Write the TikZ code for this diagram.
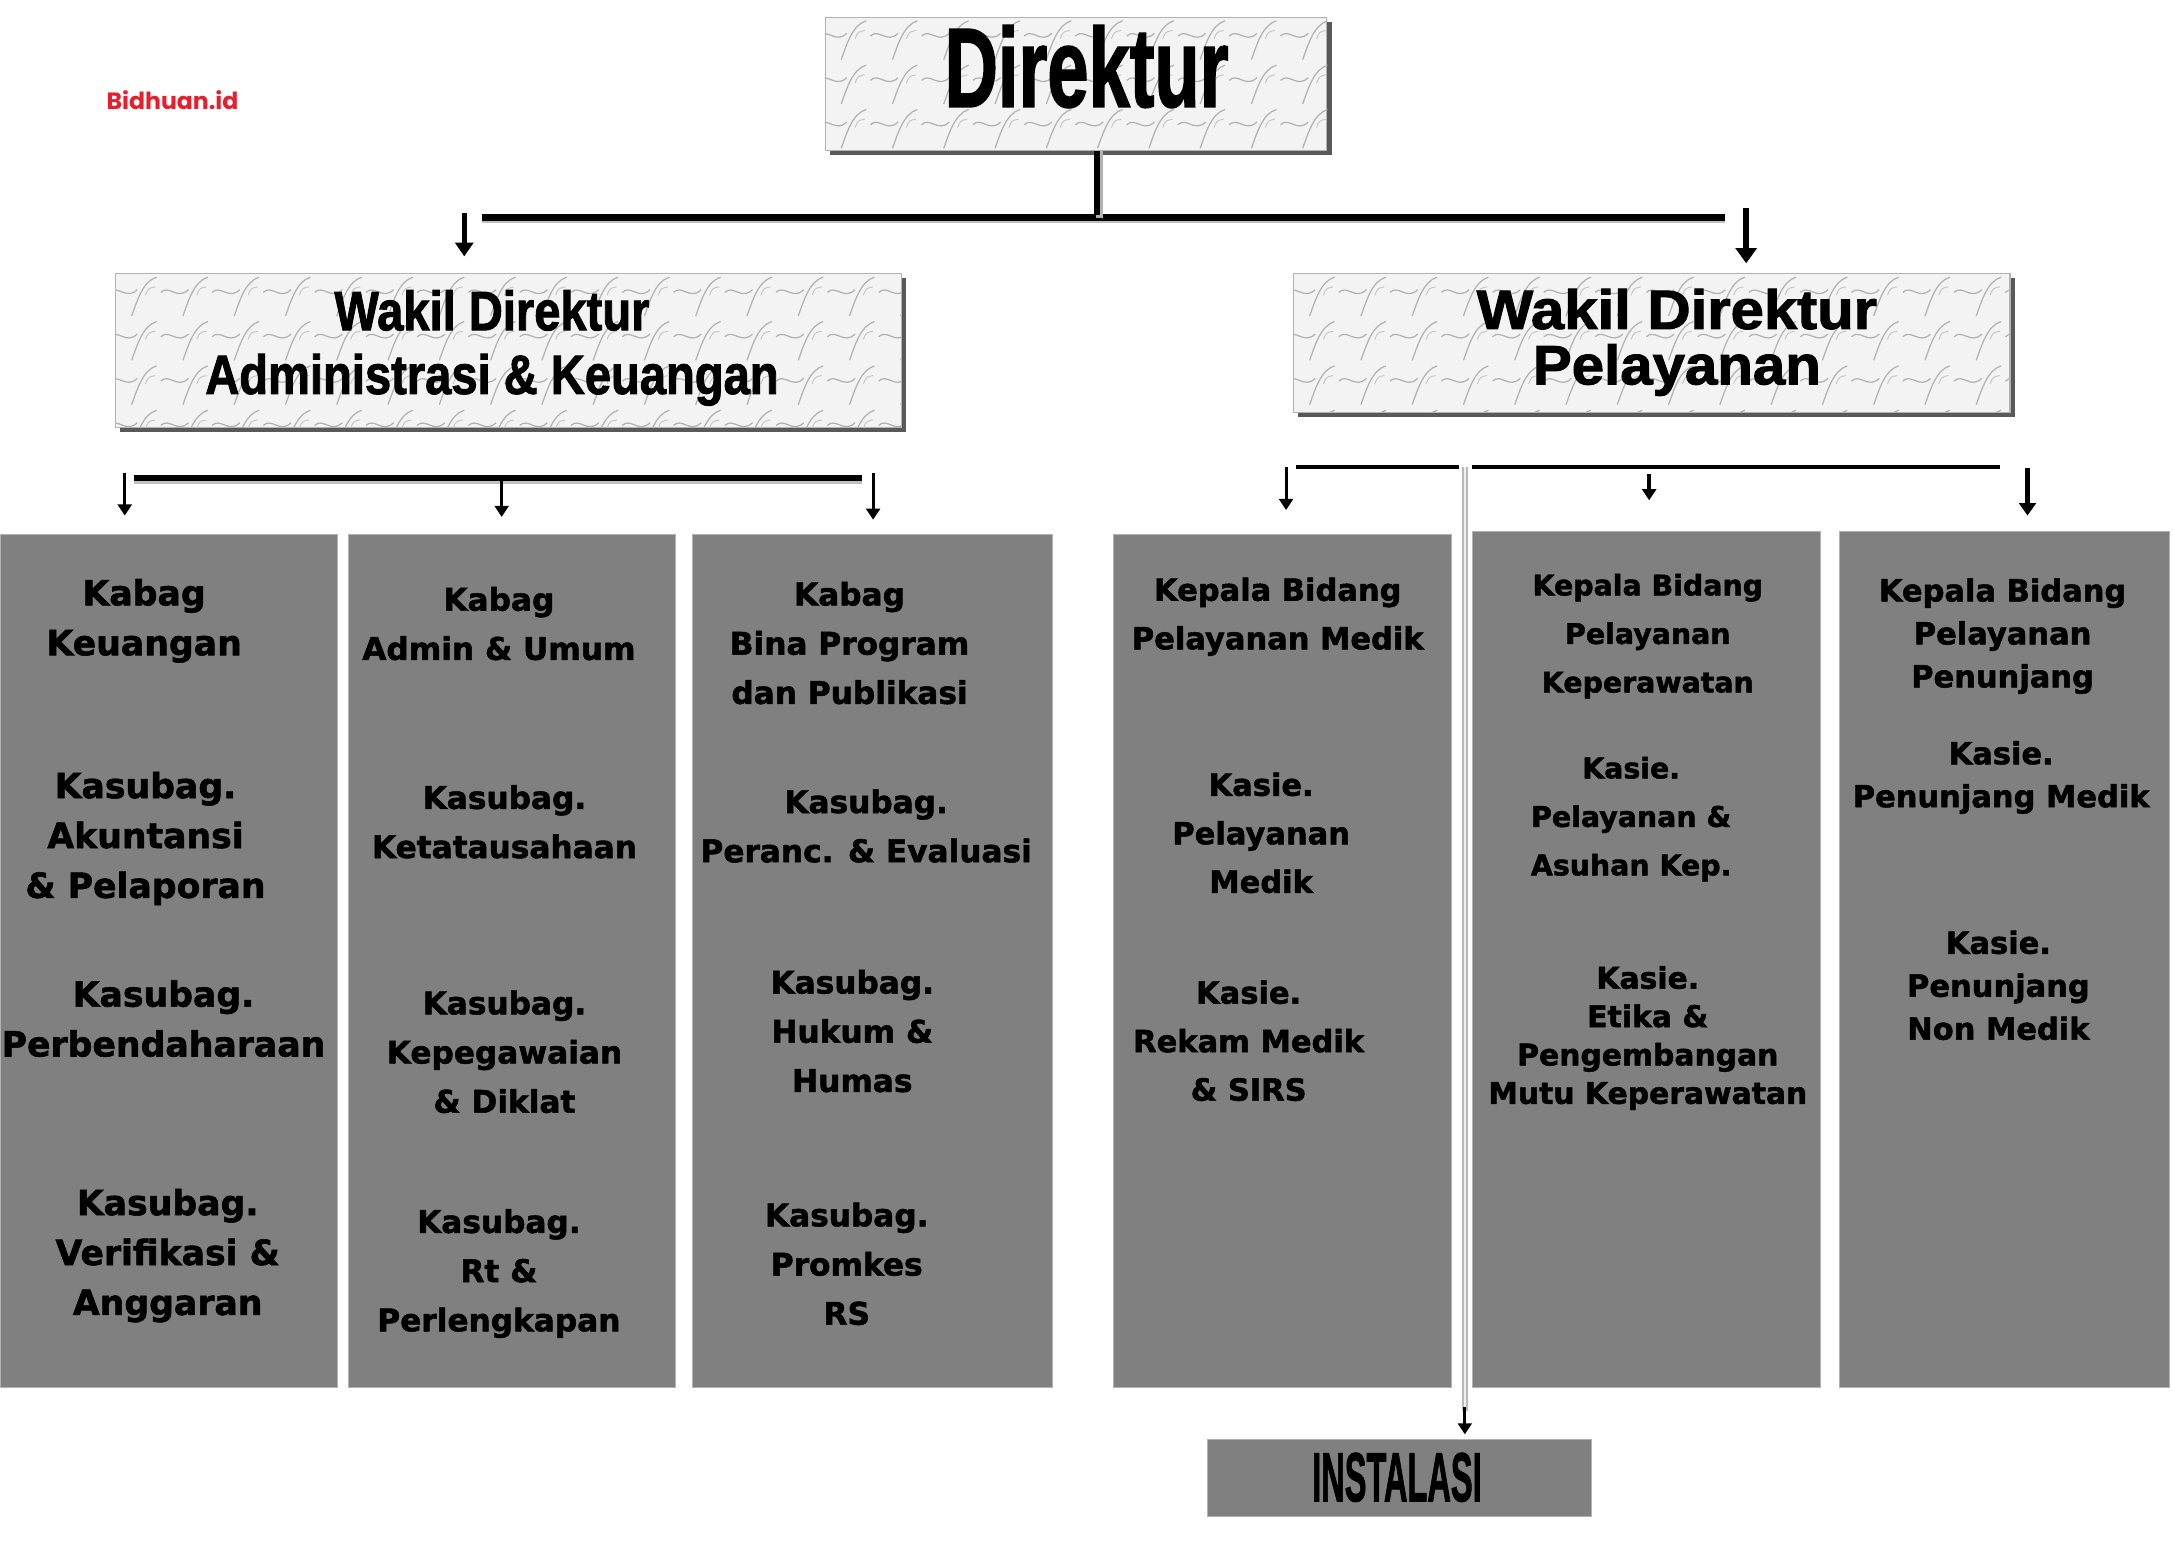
\documentclass[tikz,border=0pt]{standalone}
\usepackage{fontspec}
\usepackage{graphicx}
\setmainfont{DejaVu Sans}[BoldFeatures={FakeBold=1.6}]
\newfontfamily\hfont{Liberation Sans}[BoldFeatures={FakeBold=1.8}]
\newfontfamily\wmfont{Poppins}
\usetikzlibrary{arrows.meta,shadows}
\definecolor{colgray}{RGB}{128,128,128}
\definecolor{wmred}{RGB}{232,30,45}
\definecolor{texfill}{RGB}{243,243,243}
\newcommand{\texpat}[4]{%
  \begin{scope}[shift={(#1,#2)}]
    \foreach \i in {0,...,#3}{\foreach \j in {0,...,#4}{
      \draw[squig] (\i*37-4,\j*32+14) .. controls (\i*37+2,\j*32+8) and (\i*37+8,\j*32+20) .. (\i*37+16,\j*32+12);
      \draw[squig] (\i*37+12,\j*32+31) .. controls (\i*37+16,\j*32+20) and (\i*37+20,\j*32+6) .. (\i*37+30,\j*32+3);
      \draw[squig2] (\i*37+22,\j*32+16) .. controls (\i*37+24,\j*32+11) .. (\i*37+29,\j*32+10);
    }}
  \end{scope}}
\tikzset{
  squig/.style={gray!60, line width=0.9pt},
  squig2/.style={gray!45, line width=0.7pt},
  texbox/.style={draw=gray!60, line width=0.8pt, fill=texfill, inner sep=0pt, anchor=north west,
    drop shadow={shadow xshift=3.5pt, shadow yshift=-3.5pt, fill=black!65, opacity=1}},
  colbox/.style={fill=colgray, draw=gray!60, line width=0.6pt, inner sep=0pt, anchor=north west},
  ctext/.style={align=center, inner sep=0pt, text=black},
  fA/.style={ctext, font=\bfseries\fontsize{25}{36}\selectfont},
  fB/.style={ctext, font=\bfseries\fontsize{22.5}{35.5}\selectfont},
  fC/.style={ctext, font=\bfseries\fontsize{22}{35}\selectfont},
  fD/.style={ctext, font=\bfseries\fontsize{20.5}{35}\selectfont},
  fE/.style={ctext, font=\bfseries\fontsize{22}{31}\selectfont},
  fS/.style={ctext, font=\bfseries\fontsize{21.5}{27.7}\selectfont},
  hline/.style={line width=4.5pt},
  hlinethin/.style={line width=3.5pt},
  arr/.style={line width=2.2pt, -{Triangle[length=8pt,width=10pt]}},
  arrthick/.style={line width=4pt, -{Triangle[length=11pt,width=15pt]}},
  tube/.style={gray!55, line width=4.5pt},
  tubecore/.style={gray!12, line width=1.5pt},
}
\begin{document}
\begin{tikzpicture}[x=1pt,y=-1pt]
\useasboundingbox (0,0) rectangle (1568,1130);
\fill[white] (0,0) rectangle (1568,1130);

% watermark
\node[inner sep=0pt, text=wmred, font=\wmfont\bfseries\fontsize{17}{17}\selectfont] (wm) at (124.5,72) {Bidhuan.id};

% top boxes with texture
\node[texbox, minimum width=362pt, minimum height=96pt] (dir) at (595,12) {};
\begin{scope}
  \clip (dir.north west) rectangle (dir.south east);
  \texpat{595}{12}{10}{3}
\end{scope}
\node[inner sep=0pt, font=\hfont\bfseries\fontsize{81}{81}\selectfont] (dirt) at (784,48) {\scalebox{0.66}[1]{Direktur}};

\node[texbox, minimum width=567pt, minimum height=111pt] (wda) at (83,197) {};
\begin{scope}
  \clip (wda.north west) rectangle (wda.south east);
  \texpat{83}{197}{16}{3}
\end{scope}
\node[inner sep=0pt, align=center, font=\hfont\bfseries\fontsize{40}{46}\selectfont] (wdat) at (355,251) {\scalebox{0.85}[1]{Wakil Direktur}\\\scalebox{0.85}[1]{Administrasi \& Keuangan}};

\node[texbox, minimum width=517pt, minimum height=100pt] (wdp) at (933,197) {};
\begin{scope}
  \clip (wdp.north west) rectangle (wdp.south east);
  \texpat{933}{197}{14}{3}
\end{scope}
\node[inner sep=0pt, align=center, font=\hfont\bfseries\fontsize{40}{40}\selectfont] (wdpt) at (1210,247) {\scalebox{1.08}[1]{Wakil Direktur}\\\scalebox{1.05}[1]{Pelayanan}};

% columns
\node[colbox, minimum width=243pt, minimum height=616pt] (c1) at (0,385) {};
\node[colbox, minimum width=236pt, minimum height=616pt] (c2) at (251,385) {};
\node[colbox, minimum width=260pt, minimum height=616pt] (c3) at (499,385) {};
\node[colbox, minimum width=244pt, minimum height=616pt] (c4) at (803,385) {};
\node[colbox, minimum width=251pt, minimum height=618pt] (c5) at (1062,383) {};
\node[colbox, minimum width=238pt, minimum height=618pt] (c6) at (1327,383) {};

% instalasi
\node[fill=colgray, draw=gray!60, line width=0.6pt, inner sep=0pt, minimum width=277pt, minimum height=56pt, anchor=north west] (inst) at (871,1038) {};
\node[inner sep=0pt, font=\hfont\bfseries\fontsize{50}{50}\selectfont] (instt) at (1008,1066) {\scalebox{0.47}[1]{INSTALASI}};

% column texts
\node[fA] (t11) at (104,448) {Kabag\\Keuangan};
\node[fA] (t12) at (105,605) {Kasubag.\\Akuntansi\\\& Pelaporan};
\node[fA] (t13) at (118,735) {Kasubag.\\Perbendaharaan};
\node[fA] (t14) at (121,906) {Kasubag.\\Verifikasi \&\\Anggaran};

\node[fB] (t21) at (360,450) {Kabag\\Admin \& Umum};
\node[fB] (t22) at (364,593) {Kasubag.\\Ketatausahaan};
\node[fB] (t23) at (364,759) {Kasubag.\\Kepegawaian\\\& Diklat};
\node[fB] (t24) at (360,919) {Kasubag.\\Rt \&\\Perlengkapan};

\node[fB] (t31) at (613,464) {Kabag\\Bina Program\\dan Publikasi};
\node[fB] (t32) at (625,596) {Kasubag.\\Peranc. \& Evaluasi};
\node[fB] (t33) at (615,744) {Kasubag.\\Hukum \&\\Humas};
\node[fB] (t34) at (611,912) {Kasubag.\\Promkes\\RS};

\node[fC] (t41) at (922,445) {Kepala Bidang\\Pelayanan Medik};
\node[fC] (t42) at (910,601) {Kasie.\\Pelayanan\\Medik};
\node[fC] (t43) at (901,751) {Kasie.\\Rekam Medik\\\& SIRS};

\node[fD] (t51) at (1189,459) {Kepala Bidang\\Pelayanan\\Keperawatan};
\node[fD] (t52) at (1177,591) {Kasie.\\Pelayanan \&\\Asuhan Kep.};
\node[fS] (t53) at (1189,749) {Kasie.\\Etika \&\\Pengembangan\\Mutu Keperawatan};

\node[fE] (t61) at (1445,459) {Kepala Bidang\\Pelayanan\\Penunjang};
\node[fE] (t62) at (1444,561) {Kasie.\\Penunjang Medik};
\node[fE] (t63) at (1442,711) {Kasie.\\Penunjang\\Non Medik};

% main connectors
\coordinate (j0) at (792,157);
\coordinate (hl) at (348,157);
\coordinate (hr) at (1245,157);
\draw[gray!50, line width=2pt] ([yshift=-3pt]hl) -- ([yshift=-3pt]hr);
\draw[hline] (hl) -- (hr);
\draw[gray!60, line width=5pt] ([xshift=1.5pt]dir.south -| j0) -- ([xshift=1.5pt]j0);
\draw[line width=4pt] ([xshift=-0.5pt]dir.south -| j0) -- ([xshift=-0.5pt,yshift=2pt]j0);
\coordinate (aL) at (335,154);
\coordinate (aR) at (1260,150);
\draw[line width=3.5pt, -{Triangle[length=10pt,width=13pt]}, shorten >=12pt] (aL) -- (aL |- wda.north);
\draw[arrthick, shorten >=7pt] (aR) -- (aR |- wdp.north);

% admin branch
\coordinate (bl) at (97,345);
\coordinate (br) at (622,345);
\draw[gray!50, line width=2pt] ([yshift=-3pt]bl) -- ([yshift=-3pt]br);
\draw[hline] (bl) -- (br);
\coordinate (b1) at (90,341);
\coordinate (b2) at (362,345);
\coordinate (b3) at (630,341);
\draw[arr, shorten >=13pt] (b1) -- (b1 |- c1.north);
\draw[arr, shorten >=12pt] (b2) -- (b2 |- c2.north);
\draw[arr, shorten >=10pt] (b3) -- (b3 |- c3.north);

% pelayanan branch
\coordinate (pl) at (935,337);
\coordinate (pm1) at (1053,337);
\coordinate (pm2) at (1062,337);
\coordinate (pr) at (1443,337);
\draw[hlinethin] (pl) -- (pm1);
\draw[hlinethin] (pm2) -- (pr);
\coordinate (p1) at (928,337);
\coordinate (p2) at (1190,342);
\coordinate (p3) at (1463,338);
\draw[arr, shorten >=17pt] (p1) -- (p1 |- c4.north);
\draw[arr, line width=2.6pt, shorten >=22pt] (p2) -- (p2 |- c5.north);
\draw[arr, line width=3.2pt, -{Triangle[length=9pt,width=12pt]}, shorten >=11pt] (p3) -- (p3 |- c6.north);

% instalasi tube
\coordinate (it) at (1057,337);
\coordinate (ib) at (1057,1018);
\draw[tube] (it) -- (ib);
\draw[tubecore] (it) -- (ib);
\coordinate (ia) at (1057,1015);
\draw[arr, shorten >=3pt] (ia) -- (ia |- inst.north);
\end{tikzpicture}
\end{document}
